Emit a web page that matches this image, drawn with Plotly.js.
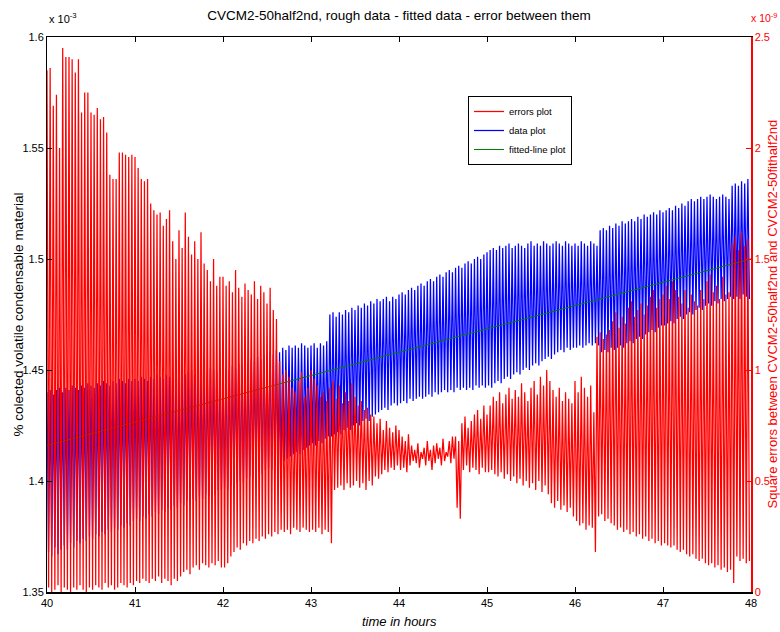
<!DOCTYPE html>
<html>
<head>
<meta charset="utf-8">
<script src="https://cdn.plot.ly/plotly-3.0.1.min.js"></script>
<style>html,body{margin:0;padding:0;background:#fff;}#chart{width:780px;height:632px;}</style>
</head>
<body>
<div id="chart"></div>
<script>
// ---- Data ----
// Sampling: 28 oscillation cycles per hour, from hour 40 to 48.
const startHour = 40;
const cyclesPerHour = 28;

// Data plot (x 10^-3 %): per-cycle high and low, in thousandths of the axis unit
const blueHigh = [
1440,1441,1439,1441,1442,1440,1442,1441,1443,1442,1441,1443,1442,1444,1443,1442,1444,1443,1445,1444,1443,1445,1444,1446,1445,1444,1446,1445,
1446,1445,1447,1446,1445,1447,1446,1448,1447,1446,1448,1447,1449,1448,1447,1449,1448,1449,1450,1448,1449,1451,1450,1449,1451,1450,1449,1451,
1450,1451,1450,1452,1451,1453,1452,1454,1453,1455,1454,1456,1455,1457,1456,1458,1457,1459,1458,1460,1459,1461,1460,1461,1460,1462,1461,1460,
1461,1462,1460,1462,1461,1463,1475,1476,1474,1476,1475,1477,1476,1478,1477,1479,1478,1480,1479,1481,1480,1482,1481,1482,1483,1481,1483,1482,
1484,1485,1484,1486,1487,1486,1488,1489,1488,1490,1491,1490,1492,1493,1492,1494,1495,1494,1496,1497,1496,1498,1499,1498,1500,1501,1500,1502,
1503,1504,1505,1504,1506,1505,1506,1507,1505,1506,1507,1506,1505,1507,1508,1506,1507,1506,1508,1507,1506,1507,1508,1507,1506,1508,1507,1506,
1507,1506,1508,1507,1506,1508,1507,1506,1513,1514,1513,1515,1514,1516,1515,1517,1516,1517,1518,1517,1519,1518,1520,1519,1520,1521,1520,1522,
1521,1522,1523,1522,1524,1523,1525,1524,1526,1527,1526,1527,1528,1527,1528,1529,1528,1527,1528,1529,1528,1527,1533,1534,1533,1535,1534,1536];
const blueLow = [
1368,1366,1370,1367,1369,1371,1369,1372,1370,1373,1372,1374,1373,1375,1374,1376,1375,1377,1376,1378,1377,1379,1378,1380,1379,1381,1380,1382,
1383,1382,1384,1383,1385,1384,1386,1385,1387,1386,1388,1387,1389,1388,1390,1389,1391,1390,1392,1391,1393,1392,1394,1393,1395,1394,1396,1396,
1397,1396,1398,1397,1399,1400,1399,1401,1402,1401,1403,1404,1403,1405,1406,1405,1407,1408,1407,1409,1410,1411,1412,1413,1412,1414,1415,1416,
1417,1416,1418,1417,1419,1420,1420,1421,1422,1421,1423,1424,1423,1425,1426,1425,1427,1428,1427,1429,1430,1431,1432,1433,1432,1434,1435,1434,
1435,1436,1435,1437,1436,1437,1438,1437,1438,1439,1438,1440,1439,1440,1441,1440,1441,1440,1442,1441,1442,1441,1442,1441,1443,1442,1443,1442,
1443,1442,1444,1445,1444,1446,1447,1446,1448,1449,1448,1450,1451,1450,1452,1453,1452,1454,1455,1456,1455,1457,1458,1459,1458,1460,1459,1460,
1460,1461,1460,1461,1462,1461,1462,1461,1458,1459,1458,1460,1459,1460,1461,1460,1462,1463,1462,1464,1465,1464,1466,1467,1468,1467,1469,1470,
1470,1471,1472,1471,1473,1474,1473,1475,1476,1475,1477,1478,1477,1479,1480,1479,1481,1480,1482,1481,1482,1483,1482,1483,1482,1484,1483,1482];

// Errors plot (x 10^-9): per-cycle high and low, in hundredths of the axis unit
const errHigh = [
235,236,219,224,200,245,241,241,240,234,240,216,225,225,216,215,218,213,214,207,188,186,186,198,198,197,196,197,
196,191,186,185,186,175,172,170,171,165,168,172,158,150,163,155,171,160,152,158,150,162,148,145,140,150,138,142,
142,138,140,135,145,137,133,139,136,134,140,132,138,135,130,137,127,123,104,98,100,97,92,90,95,99,88,92,
100,96,93,88,90,86,92,95,87,93,85,90,86,94,88,84,86,82,83,80,79,76,78,73,77,74,72,75,
73,70,68,71,66,64,67,63,65,68,64,66,67,65,69,63,68,70,70,68,76,79,74,77,80,82,78,84,
80,84,88,86,90,85,89,92,87,91,88,94,90,86,92,95,89,97,93,100,95,91,88,92,86,90,87,85,
95,90,97,92,88,93,81,115,117,114,116,118,122,126,119,124,121,128,131,124,127,130,125,129,133,136,128,132,
134,138,132,140,136,133,130,136,128,134,131,129,136,132,140,143,135,138,132,142,134,135,157,160,154,162,156,159];
const errLow = [
2,0,1,3,0,2,1,0,2,1,3,1,0,2,1,3,2,1,4,2,3,1,2,4,3,2,4,3,
5,4,6,5,4,6,5,7,4,6,5,3,6,5,7,9,10,8,11,12,10,13,12,11,13,12,14,11,
11,13,16,18,20,19,22,21,23,22,24,23,25,24,26,25,27,26,28,27,28,26,29,28,27,29,28,27,
28,27,29,26,28,27,22,46,47,48,46,49,47,48,50,47,49,46,50,48,52,51,53,55,54,56,55,57,
55,56,54,57,59,58,56,60,57,59,55,58,60,57,59,61,58,60,38,33,55,57,54,56,55,53,56,54,
54,55,53,52,54,51,53,50,52,49,51,48,50,47,49,46,50,45,48,44,40,38,41,37,39,36,38,34,
32,30,31,28,30,29,18,34,35,32,33,31,30,28,29,27,28,26,27,25,26,24,25,23,24,22,23,21,
22,21,20,21,19,18,19,17,16,17,15,14,15,13,12,13,11,12,10,11,9,10,4,16,14,15,13,14];

// Fitted line (x 10^-3 %) at the two ends of the time range
const fitHours = [40, 48];
const fitValues = [1.416, 1.500];

// Axis ticks
const xTicks = [40, 41, 42, 43, 44, 45, 46, 47, 48];
const yTicks = [1.35, 1.4, 1.45, 1.5, 1.55, 1.6];
const yTickText = ['1.35', '1.4', '1.45', '1.5', '1.55', '1.6'];
const y2Ticks = [0, 0.5, 1, 1.5, 2, 2.5];
const y2TickText = ['0', '0.5', '1', '1.5', '2', '2.5'];

// ---- Build the series ----
function build(high, low, scale) {
  const xs = [], ys = [];
  for (let i = 0; i < high.length; i++) {
    xs.push(startHour + i / cyclesPerHour);
    ys.push(high[i] / scale);
    xs.push(startHour + (i + 0.5) / cyclesPerHour);
    ys.push(low[i] / scale);
  }
  return {xs, ys};
}
const blue = build(blueHigh, blueLow, 1000);
const red = build(errHigh, errLow, 100);

const FONT = 'Liberation Sans, Arial, Helvetica, sans-serif';

const traces = [
  {x: blue.xs, y: blue.ys, type: 'scatter', mode: 'lines', name: 'data plot',
   line: {color: '#0000ff', width: 1.25}, legendrank: 2, xaxis: 'x', yaxis: 'y'},
  {x: fitHours, y: fitValues, type: 'scatter', mode: 'lines', name: 'fitted-line plot',
   line: {color: '#008000', width: 1}, legendrank: 3, xaxis: 'x', yaxis: 'y'},
  {x: red.xs, y: red.ys, type: 'scatter', mode: 'lines', name: 'errors plot',
   line: {color: '#ff0000', width: 1.25}, legendrank: 1, xaxis: 'x', yaxis: 'y2'}
];

const layout = {
  width: 780, height: 632,
  margin: {l: 47, r: 29, t: 37, b: 40, pad: 0},
  paper_bgcolor: '#ffffff', plot_bgcolor: '#ffffff',
  font: {family: FONT, size: 11, color: '#000'},
  showlegend: true,
  title: {text: 'CVCM2-50half2nd, rough data - fitted data - error between them',
          x: 0.5, xref: 'paper', y: 1 - 15 / 632, yref: 'container', yanchor: 'middle',
          font: {family: FONT, size: 13.5, color: '#000'}},
  xaxis: {range: [40, 48], tickvals: xTicks, ticktext: xTicks.map(String),
          ticks: 'inside', ticklen: 5, tickcolor: '#000', showline: true, linecolor: '#000',
          linewidth: 1.5, mirror: 'ticks', showgrid: false, zeroline: false,
          tickfont: {family: FONT, size: 11, color: '#000'}},
  yaxis: {range: [1.35, 1.6], tickvals: yTicks, ticktext: yTickText,
          ticks: 'inside', ticklen: 5, tickcolor: '#000', showline: true, linecolor: '#000',
          linewidth: 1, showgrid: false, zeroline: false,
          tickfont: {family: FONT, size: 11, color: '#000'}},
  yaxis2: {range: [0, 2.5], tickvals: y2Ticks, ticktext: y2TickText, overlaying: 'y', side: 'right',
           ticks: 'inside', ticklen: 5, tickcolor: '#ff0000', showline: true, linecolor: '#ff0000',
           linewidth: 1.5, showgrid: false, zeroline: false,
           tickfont: {family: FONT, size: 11, color: '#ff0000'}},
  legend: {x: (468 - 47) / 704, y: (592 - 96) / 555, xanchor: 'left', yanchor: 'top',
           bgcolor: '#ffffff', bordercolor: '#000', borderwidth: 1,
           font: {family: FONT, size: 9.5, color: '#000'}, itemwidth: 30, tracegroupgap: 0},
  annotations: [
    {text: 'time in hours', xref: 'paper', yref: 'paper', x: 0.5, y: (592 - 622) / 555,
     showarrow: false, xanchor: 'center', yanchor: 'middle',
     font: {family: FONT, size: 13, color: '#000', style: 'italic'}},
    {text: '% colected volatile condensable material', xref: 'paper', yref: 'paper',
     x: (18 - 47) / 704, y: 0.5, textangle: -90, showarrow: false,
     xanchor: 'center', yanchor: 'middle', font: {family: FONT, size: 13.5, color: '#000'}},
    {text: 'Square errors between CVCM2-50half2nd and CVCM2-50fithalf2nd', xref: 'paper', yref: 'paper',
     x: (772 - 47) / 704, y: 0.5, textangle: -90, showarrow: false,
     xanchor: 'center', yanchor: 'middle', font: {family: FONT, size: 13, color: '#ff0000'}},
    {text: 'x 10<sup>-3</sup>', xref: 'paper', yref: 'paper', x: 0, y: (592 - 18) / 555,
     showarrow: false, xanchor: 'left', yanchor: 'middle', font: {family: FONT, size: 11, color: '#000'}},
    {text: 'x 10<sup>-9</sup>', xref: 'paper', yref: 'paper', x: (749 - 47) / 704, y: (592 - 18) / 555,
     showarrow: false, xanchor: 'left', yanchor: 'middle', font: {family: FONT, size: 10.5, color: '#ff0000'}}
  ]
};

Plotly.newPlot('chart', traces, layout, {displayModeBar: false, staticPlot: true});
</script>
</body>
</html>
